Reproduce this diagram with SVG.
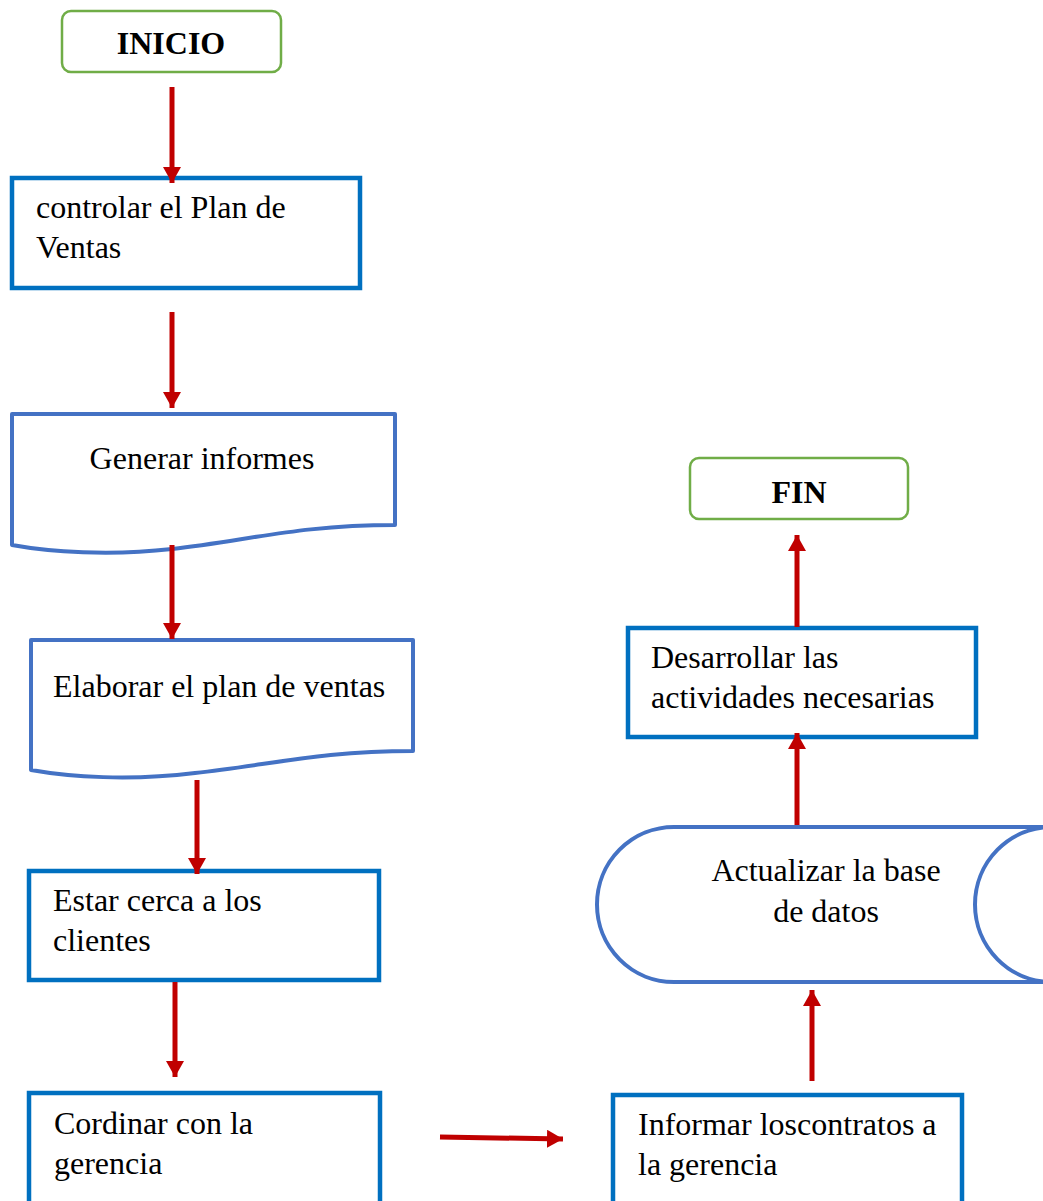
<svg xmlns="http://www.w3.org/2000/svg" width="1043" height="1201" viewBox="0 0 1043 1201">
  <style>
    .term { fill: #fff; stroke: #70AD47; stroke-width: 2.5; }
    .proc { fill: #fff; stroke: #0070C0; stroke-width: 4.5; }
    .shape { fill: #fff; stroke: #4472C4; stroke-width: 4; stroke-linejoin: round; }
    .lbl { font-family: "Liberation Serif", "Times New Roman", serif; font-size: 32px; fill: #000; }
    .bold { font-weight: bold; }
    .mid { text-anchor: middle; }
    .conn { stroke: #C00000; stroke-width: 5; fill: none; }
  </style>
  <defs>
    <marker id="arrow" markerUnits="userSpaceOnUse" markerWidth="18" markerHeight="19" refX="16" refY="9" orient="auto">
      <path d="M0,0 L16,9 L0,18 Z" fill="#C00000"/>
    </marker>
  </defs>
  <rect width="1043" height="1201" fill="#fff"/>

  <g id="inicio">
    <rect class="term" x="62" y="11" width="219" height="61" rx="9"/>
    <text class="lbl bold mid" x="171" y="54">INICIO</text>
  </g>

  <g id="controlar">
    <rect class="proc" x="12" y="178" width="348" height="110"/>
    <text class="lbl" x="36" y="218">controlar el Plan de</text>
    <text class="lbl" x="36" y="258">Ventas</text>
  </g>

  <g id="generar">
    <path class="shape" d="M12,414 H395 V525 C300,525 250,540 172,549 C110,556 50,552 12,545 Z"/>
    <text class="lbl mid" x="202" y="469">Generar informes</text>
  </g>

  <g id="elaborar">
    <path class="shape" d="M31,640 H413 V751 C320,751 270,765 195,773 C130,781 70,777 31,770 Z"/>
    <text class="lbl" x="53" y="697">Elaborar el plan de ventas</text>
  </g>

  <g id="estar">
    <rect class="proc" x="29" y="871" width="350" height="109"/>
    <text class="lbl" x="53" y="911">Estar cerca a los</text>
    <text class="lbl" x="53" y="951">clientes</text>
  </g>

  <g id="cordinar">
    <rect class="proc" x="29" y="1093" width="351" height="112"/>
    <text class="lbl" x="54" y="1134">Cordinar con la</text>
    <text class="lbl" x="54" y="1174">gerencia</text>
  </g>

  <g id="informar">
    <rect class="proc" x="613" y="1095" width="349" height="110"/>
    <text class="lbl" x="638" y="1135">Informar loscontratos a</text>
    <text class="lbl" x="638" y="1175">la gerencia</text>
  </g>

  <g id="actualizar">
    <path class="shape" d="M674,827 H1052 A77,77.5 0 0 0 1052,982 H674 A77,77.5 0 0 1 674,827 Z"/>
    <text class="lbl mid" x="826" y="881">Actualizar la base</text>
    <text class="lbl mid" x="826" y="922">de datos</text>
  </g>

  <g id="desarrollar">
    <rect class="proc" x="628" y="628" width="348" height="109"/>
    <text class="lbl" x="651" y="668">Desarrollar las</text>
    <text class="lbl" x="651" y="708">actividades necesarias</text>
  </g>

  <g id="fin">
    <rect class="term" x="690" y="458" width="218" height="61" rx="9"/>
    <text class="lbl bold mid" x="799" y="503">FIN</text>
  </g>

  <g id="connectors">
    <line class="conn" x1="172" y1="87" x2="172" y2="183" marker-end="url(#arrow)"/>
    <line class="conn" x1="172" y1="312" x2="172" y2="408" marker-end="url(#arrow)"/>
    <line class="conn" x1="172" y1="545" x2="172" y2="639" marker-end="url(#arrow)"/>
    <line class="conn" x1="197" y1="780" x2="197" y2="874" marker-end="url(#arrow)"/>
    <line class="conn" x1="175" y1="982" x2="175" y2="1077" marker-end="url(#arrow)"/>
    <line class="conn" x1="440" y1="1137" x2="563" y2="1139" marker-end="url(#arrow)"/>
    <line class="conn" x1="812" y1="1081" x2="812" y2="990" marker-end="url(#arrow)"/>
    <line class="conn" x1="797" y1="825" x2="797" y2="733" marker-end="url(#arrow)"/>
    <line class="conn" x1="797" y1="627" x2="797" y2="535" marker-end="url(#arrow)"/>
  </g>
</svg>
